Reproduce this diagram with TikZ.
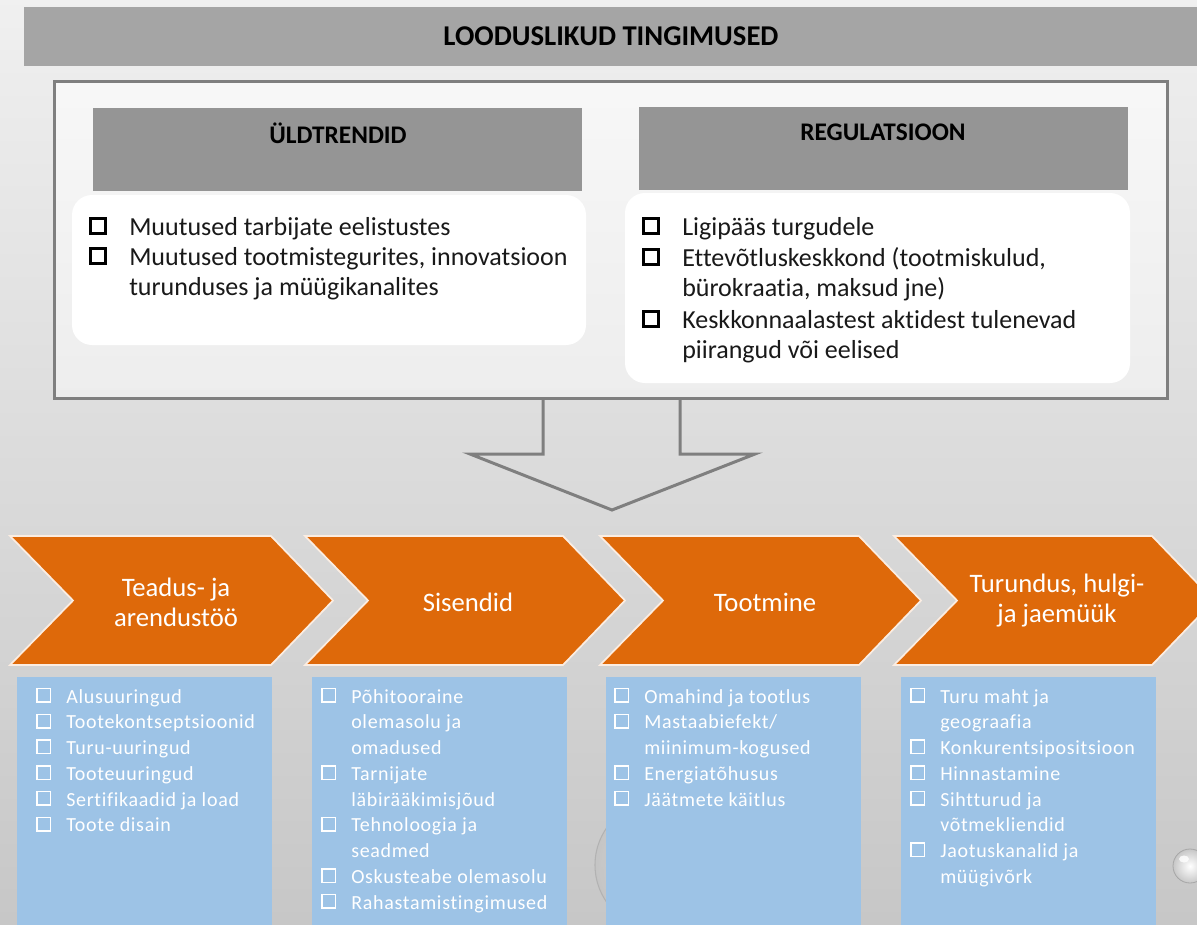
\documentclass[tikz,border=0pt]{standalone}
\usepackage{fontspec}
\setmainfont{Carlito}[Ligatures=NoCommon]
\definecolor{bannergray}{HTML}{A5A5A5}
\definecolor{headgray}{HTML}{959595}
\definecolor{framegray}{HTML}{7F7F7F}
\definecolor{chevorange}{RGB}{222,105,10}
\definecolor{bluefill}{HTML}{9DC3E6}
% #1 name, #2 square x, #3 baseline of first line, #4 number of lines, #5 text
\newcommand\topitem[5]{%
  \draw[topcheck] ({#2+1.5},{#3-1.5}) rectangle ++(15,-15);
  \node[topitemtext] (#1) at ({#2+40},{#3+30.93*(#4-1)}) {#5};}
% #1 name, #2 square x, #3 line index, #4 number of lines, #5 text
\newcommand\blueitem[5]{%
  \draw[bluecheck] ({#2+0.8},{703+25.75*#3-0.8}) rectangle ++(13.5,-13.5);
  \node[blueitemtext] (#1) at ({#2+30},{703+25.75*(#3+#4-1)}) {#5};}
\begin{document}
\begin{tikzpicture}[x=0.75pt,y=-0.75pt,
  topcheck/.style={draw=black, line width=2.3pt},
  bluecheck/.style={draw=white, line width=1.1pt},
  topitemtext/.style={anchor=base west, align=left, inner sep=0pt, text=black!90,
    font=\fontsize{19.5}{23.2}\selectfont},
  blueitemtext/.style={anchor=base west, align=left, inner sep=0pt, text=white,
    font=\fontsize{15}{19.31}\selectfont\addfontfeature{LetterSpace=3.5}},
  headtext/.style={font=\bfseries\fontsize{19}{22}\selectfont, text=black, inner sep=0pt},
  chevron/.style={fill=chevorange, draw=white!88!chevorange, line width=1.3pt, line join=miter},
  chevtext/.style={text=white, align=center, inner sep=0pt, font=\fontsize{20}{22.5}\selectfont},
  bluebox/.style={fill=bluefill}]
\clip (0,0) rectangle (1197,925);
% background
\shade[top color=black!6, middle color=black!9, bottom color=black!22] (0,0) rectangle (1197,925);
% decorative drops
\shade[inner color=black!12, outer color=black!24, opacity=0.6] (660,865) circle (65);
\draw[black!30, line width=0.8pt] (660,865) circle (65);
\shade[inner color=white, outer color=black!22] (1190,866) circle (17);
\draw[black!35, line width=0.6pt] (1190,866) circle (17);
\fill[white, opacity=0.8] (1184,859) ellipse (5 and 3.5);
% title banner
\fill[bannergray] (24,7) rectangle (1197,66);
\node[font=\bfseries\fontsize{21.5}{26}\selectfont, inner sep=0pt] (title) at (611,36.5) {LOODUSLIKUD TINGIMUSED};
% outer frame
\path[draw=framegray, line width=2.25pt, top color=black!3, bottom color=black!7] (54,81) rectangle (1167,398);
% big arrow
\draw[framegray, line width=2.25pt, line join=miter] (543,398) -- (543,454) -- (470,454) -- (612,510) -- (755,454) -- (680,454) -- (680,398);
% headers
\fill[headgray] (93,108) rectangle (582,191);
\node[headtext] (uld) at (338,133) {ÜLDTRENDID};
\fill[headgray] (639,107) rectangle (1128,190);
\node[headtext] (reg) at (883,132) {REGULATSIOON};
% white boxes
\fill[white, rounded corners=15pt] (72,195) rectangle (586,345);
\fill[white, rounded corners=15pt] (625,193) rectangle (1130,383);
\topitem{u1}{89}{235}{1}{Muutused tarbijate eelistustes}
\topitem{u2}{89}{265}{2}{Muutused tootmistegurites, innovatsioon\\turunduses ja müügikanalites}
\topitem{r1}{642}{235}{1}{Ligipääs turgudele}
\topitem{r2}{642}{266}{2}{Ettevõtluskeskkond (tootmiskulud,\\bürokraatia, maksud jne)}
\topitem{r3}{642}{328}{2}{Keskkonnaalastest aktidest tulenevad\\piirangud või eelised}
% chevrons
\foreach \L/\R in {10/271, 305/563, 600/859, 894/1152}
  \draw[chevron] (\L,536) -- (\R,536) -- ({\R+62},600.5) -- (\R,665) -- (\L,665) -- ({\L+63},600.5) -- cycle;
\node[chevtext] (c1) at (176,602) {Teadus- ja\\arendustöö};
\node[chevtext] (c2) at (468,602) {Sisendid};
\node[chevtext] (c3) at (765,602) {Tootmine};
\node[chevtext] (c4) at (1057,601) {Turundus, hulgi-\\ja jaemüük};
% blue boxes
\fill[bluebox] (17,677) rectangle (272,925);
\fill[bluebox] (312,677) rectangle (567,925);
\fill[bluebox] (606,677) rectangle (861,925);
\fill[bluebox] (901,677) rectangle (1156,925);
\blueitem{a1}{36}{0}{1}{Alusuuringud}
\blueitem{a2}{36}{1}{1}{Tootekontseptsioonid}
\blueitem{a3}{36}{2}{1}{Turu-uuringud}
\blueitem{a4}{36}{3}{1}{Tooteuuringud}
\blueitem{a5}{36}{4}{1}{Sertifikaadid ja load}
\blueitem{a6}{36}{5}{1}{Toote disain}
\blueitem{b1}{321}{0}{3}{Põhitooraine\\olemasolu ja\\omadused}
\blueitem{b2}{321}{3}{2}{Tarnijate\\läbirääkimisjõud}
\blueitem{b3}{321}{5}{2}{Tehnoloogia ja\\seadmed}
\blueitem{b4}{321}{7}{1}{Oskusteabe olemasolu}
\blueitem{b5}{321}{8}{1}{Rahastamistingimused}
\blueitem{d1}{614}{0}{1}{Omahind ja tootlus}
\blueitem{d2}{614}{1}{2}{Mastaabiefekt/\\miinimum-kogused}
\blueitem{d3}{614}{3}{1}{Energiatõhusus}
\blueitem{d4}{614}{4}{1}{Jäätmete käitlus}
\blueitem{e1}{910}{0}{2}{Turu maht ja\\geograafia}
\blueitem{e2}{910}{2}{1}{Konkurentsipositsioon}
\blueitem{e3}{910}{3}{1}{Hinnastamine}
\blueitem{e4}{910}{4}{2}{Sihtturud ja\\võtmekliendid}
\blueitem{e5}{910}{6}{2}{Jaotuskanalid ja\\müügivõrk}
\end{tikzpicture}
\end{document}
